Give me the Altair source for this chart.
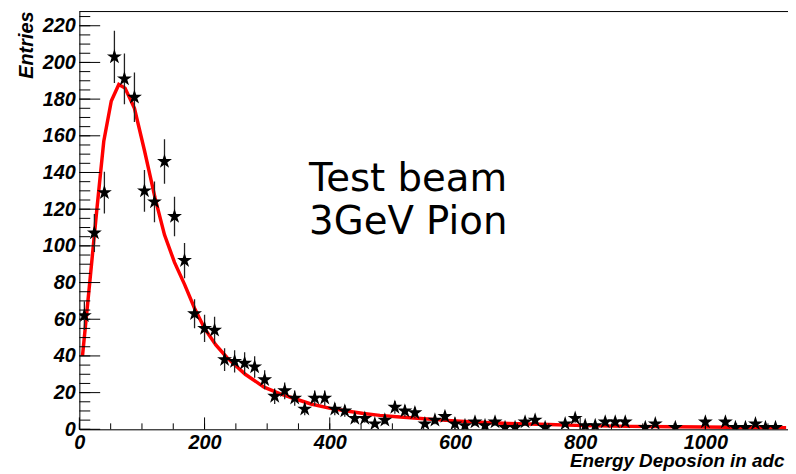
import altair as alt
import pandas as pd

# ---- data ----
bin_center = [8, 24, 40, 56, 72, 88, 104, 120, 136, 152, 168, 184, 200, 216, 232, 248,
              264, 280, 296, 312, 328, 344, 360, 376, 392, 408, 424, 440, 456, 472, 488,
              504, 520, 536, 552, 568, 584, 600, 616, 632, 648, 664, 680, 696, 712, 728,
              744, 776, 792, 808, 824, 840, 856, 872, 904, 920, 952, 1000, 1032, 1048,
              1064, 1080, 1096, 1112]
entries = [62, 107, 129, 203, 191, 181, 130, 124, 146, 116, 92, 63, 55, 54, 38, 37,
           36, 34, 27, 18, 21, 17, 11, 17, 17, 11, 10, 6, 6, 3, 5,
           12, 10, 9, 3, 5, 7, 3, 2, 4, 2, 4, 1, 1, 4, 5,
           1, 3, 6, 2, 2, 4, 4, 4, 1, 3, 1, 4, 4, 1,
           1, 3, 1, 1]

fit_x = [5, 16, 28, 39, 51, 63, 73, 88, 104, 121, 136, 152, 168, 184, 200, 218, 236,
         265, 295, 320, 343, 370, 401, 430, 454, 480, 507, 540, 580, 630, 685, 750,
         807, 880, 950, 1040, 1129]
fit_y = [40, 78, 120, 157, 179, 188, 186, 175, 152, 126, 106, 91, 79, 66, 55, 46, 39,
         30, 23, 19.5, 16.8, 13.8, 11.4, 9.8, 8.6, 7.6, 6.8, 6.0, 5.0, 4.0, 3.2, 2.6,
         2.0, 1.6, 1.4, 1.1, 0.9]

x_major = [0, 200, 400, 600, 800, 1000]
x_minor = list(range(0, 1131, 50))
y_major = list(range(0, 221, 20))
y_minor = list(range(0, 226, 5))

note_lines = ["Test beam", "3GeV Pion"]
note_x = [367, 367]
note_y = [130, 106.5]

x_title = "Energy Deposion in adc"
y_title = "Entries"

# ---- layout ----
W, H = 715, 422
FONT = "Liberation Sans"
xs = alt.Scale(domain=[0, 1132], nice=False, zero=False)
ys = alt.Scale(domain=[0, 228], nice=False, zero=False)

x_axis = alt.Axis(values=x_major, format="d", title=x_title, labelFont=FONT, labelFontSize=20,
                  labelFontStyle="italic", labelFontWeight="bold", labelColor="black",
                  labelPadding=3, labelFlush=False, labelOverlap=False, ticks=False,
                  domainColor="black", domainWidth=1, grid=False,
                  titleFont=FONT, titleFontSize=19, titleFontStyle="italic",
                  titleFontWeight="bold", titleColor="black", titleAlign="right",
                  titleBaseline="alphabetic", titleX=711, titleY=38, titleAngle=0)
y_axis = alt.Axis(values=y_major, format="d", title=y_title, labelFont=FONT, labelFontSize=20,
                  labelFontStyle="italic", labelFontWeight="bold", labelColor="black",
                  labelPadding=4, labelOverlap=False, ticks=False,
                  domainColor="black", domainWidth=1, grid=False,
                  titleFont=FONT, titleFontSize=20, titleFontStyle="italic",
                  titleFontWeight="bold", titleColor="black", titleAlign="right",
                  titleBaseline="alphabetic", titleAngle=270, titleX=-47, titleY=0)

STAR = ("M0,-1 L0.2245,-0.309 L0.951,-0.309 L0.363,0.118 L0.588,0.809 L0,0.382 "
        "L-0.588,0.809 L-0.363,0.118 L-0.951,-0.309 L-0.2245,-0.309 Z")

hist = pd.DataFrame({"x": bin_center, "n": entries})
fit = pd.DataFrame({"x": fit_x, "y": fit_y})
notes = pd.DataFrame({"x": note_x, "y": note_y, "t": note_lines})


def X(field):
    return alt.X(field, scale=xs, axis=x_axis)


def Y(field):
    return alt.Y(field, scale=ys, axis=y_axis)


curve = alt.Chart(fit).mark_line(color="#ff0000", strokeWidth=3.5, clip=True).encode(
    x=X("x:Q"), y=Y("y:Q"))

ymaj = alt.Chart(pd.DataFrame({"v": y_major})).mark_rule(color="black", strokeWidth=1).encode(
    y=Y("v:Q"), x=alt.value(0), x2=alt.value(21))
ymin = alt.Chart(pd.DataFrame({"v": y_minor})).mark_rule(color="black", strokeWidth=1).encode(
    y=Y("v:Q"), x=alt.value(0), x2=alt.value(11))
xmaj = alt.Chart(pd.DataFrame({"v": x_major})).mark_rule(color="black", strokeWidth=1).encode(
    x=X("v:Q"), y=alt.value(H), y2=alt.value(H - 12))
xmin = alt.Chart(pd.DataFrame({"v": x_minor})).mark_rule(color="black", strokeWidth=1).encode(
    x=X("v:Q"), y=alt.value(H), y2=alt.value(H - 6))
frame = alt.Chart(pd.DataFrame({"a": [0]})).mark_rule(color="black", strokeWidth=1).encode(
    x=alt.value(0), x2=alt.value(W), y=alt.value(0.5))

err = alt.Chart(hist).transform_calculate(
    lo="datum.n - sqrt(datum.n)", hi="datum.n + sqrt(datum.n)"
).mark_rule(color="#222222", strokeWidth=1.3, clip=True).encode(
    x=X("x:Q"), y=Y("lo:Q"), y2="hi:Q")

stars = alt.Chart(hist).mark_point(shape=STAR, filled=True, size=250, color="black",
                                   opacity=1, strokeWidth=0, clip=True).encode(
    x=X("x:Q"), y=Y("n:Q"))

text = alt.Chart(notes).mark_text(align="left", baseline="alphabetic", font="DejaVu Sans",
                                  fontSize=39, color="black").encode(
    x=X("x:Q"), y=Y("y:Q"), text="t:N")

chart = alt.layer(curve, ymin, ymaj, xmin, xmaj, frame, err, stars, text).properties(
    width=W, height=H,
    autosize=alt.AutoSizeParams(type="none"),
    padding={"left": 72, "top": 1, "right": 0, "bottom": 42},
).configure_view(stroke=None).configure(background="white")

chart.save("out.html", embed_options={"renderer": "svg", "actions": False})
